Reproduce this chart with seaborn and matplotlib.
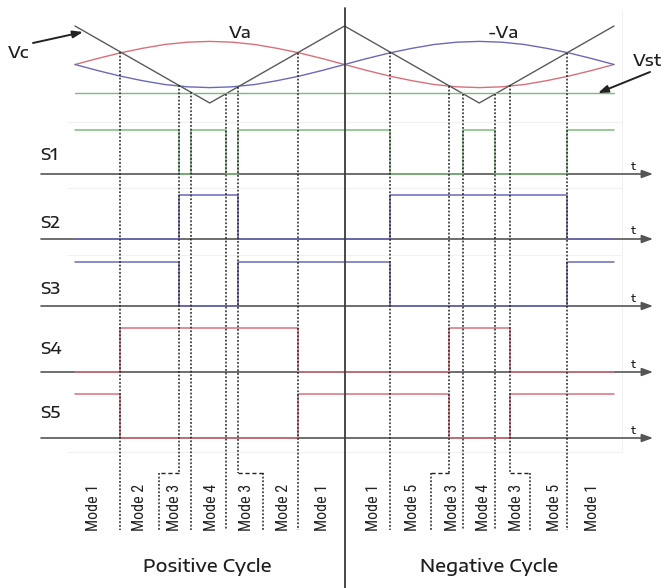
import numpy as np
import matplotlib
matplotlib.use("Agg")
import matplotlib.pyplot as plt
import seaborn as sns

# ---------------- signals (time in half-cycles: 0-1 positive, 1-2 negative) ----------------
carrier_t = [0.0, 0.5, 1.0, 1.5, 2.0]
carrier_v = [1.0, -1.0, 1.0, -1.0, 1.0]

ref_t = [0.0, 0.083, 0.167, 0.25, 0.333, 0.417, 0.5, 0.583, 0.667, 0.75, 0.833, 0.917,
         1.0, 1.083, 1.167, 1.25, 1.333, 1.417, 1.5, 1.583, 1.667, 1.75, 1.833, 1.917, 2.0]
va = [0.0, 0.155, 0.30, 0.42, 0.52, 0.58, 0.60, 0.58, 0.52, 0.42, 0.30, 0.155,
      0.0, -0.155, -0.30, -0.42, -0.52, -0.58, -0.60, -0.58, -0.52, -0.42, -0.30, -0.155, 0.0]
neg_va = [-v for v in va]
vst_level = -0.74

# switching instants (interval boundaries)
bounds = [0.0, 0.167, 0.386, 0.430, 0.560, 0.605, 0.827,
          1.169, 1.388, 1.440, 1.558, 1.614, 1.826, 2.0]

switch_names = ["S1", "S2", "S3", "S4", "S5"]
s1 = [1, 1, 0, 1, 0, 1, 1, 0, 0, 1, 0, 0, 1]
s2 = [0, 0, 1, 1, 1, 0, 0, 1, 1, 1, 1, 1, 0]
s3 = [1, 1, 0, 0, 0, 1, 1, 0, 0, 0, 0, 0, 1]
s4 = [0, 1, 1, 1, 1, 1, 0, 0, 1, 1, 1, 0, 0]
s5 = [1, 0, 0, 0, 0, 0, 1, 1, 0, 0, 0, 1, 1]
switch_states = [s1, s2, s3, s4, s5]

mode_labels = ["Mode 1", "Mode 2", "Mode 3", "Mode 4", "Mode 3", "Mode 2", "Mode 1",
               "Mode 1", "Mode 5", "Mode 3", "Mode 4", "Mode 3", "Mode 5", "Mode 1"]
mode_pos = [0.067, 0.241, 0.371, 0.505, 0.638, 0.772, 0.917,
            1.106, 1.254, 1.399, 1.514, 1.640, 1.781, 1.922]

# ---------------- layout ----------------
W, H = 666, 588
X0, XS = 75.0, 269.5            # pixel position of t=0 and pixels per half-cycle
def tx(px):
    return (px - X0) / XS

TOP_MID, TOP_SCALE = 64.5, 38.5
def top_y(v):
    return TOP_MID - TOP_SCALE * np.asarray(v, dtype=float)

row_base = [174, 239, 306, 372, 438]
row_label_y = [156, 224, 289, 349, 413]
ROW_HIGH = 44
JOG_Y, END_Y = 473, 530
jogs = {2: 0.312, 5: 0.698, 8: 1.321, 11: 1.688}

RED, BLUE, GREEN, GREY = "#d8707a", "#6a6ab8", "#7dbb7d", "#5a5a5a"
row_colors = [GREEN, BLUE, BLUE, RED, RED]
TXT = "#1e1e1e"

sns.set_theme(style="white")
plt.rcParams["font.family"] = ["Encode Sans Expanded", "DejaVu Sans"]
WIDE = dict(family=["Encode Sans Expanded", "DejaVu Sans"], fontweight="medium")
NARROW = dict(family=["Roboto Condensed", "DejaVu Sans"], fontweight="normal")

fig = plt.figure(figsize=(W / 100, H / 100), dpi=100)
ax = fig.add_axes([0, 0, 1, 1])

# faint panel frames
for yy in (122, 188, 255, 452):
    ax.plot([tx(67), tx(622)], [yy, yy], color="#f1f1f1", lw=0.8, zorder=0)
ax.plot([tx(622), tx(622)], [10, 452], color="#f1f1f1", lw=0.8, zorder=0)

# reference and carrier
sns.lineplot(x=ref_t, y=top_y(va), ax=ax, color=RED, lw=1.0, estimator=None, sort=False)
sns.lineplot(x=ref_t, y=top_y(neg_va), ax=ax, color=BLUE, lw=1.0, estimator=None, sort=False)
sns.lineplot(x=carrier_t, y=top_y(carrier_v), ax=ax, color=GREY, lw=1.0, estimator=None, sort=False)
ax.plot([0, 2], top_y([vst_level, vst_level]), color=GREEN, lw=1.0)

# half-cycle divider
ax.plot([1, 1], [8, H], color="#3a3a3a", lw=1.3, zorder=5)

# gate signals
for i, (name, st) in enumerate(zip(switch_names, switch_states)):
    base = row_base[i]
    ax.annotate("", xy=(tx(653), base), xytext=(tx(41), base),
                arrowprops=dict(arrowstyle="-|>,head_length=0.55,head_width=0.2",
                                color="#555555", lw=1.2, shrinkA=0, shrinkB=0), zorder=2)
    levels = base - ROW_HIGH * np.array(st + [st[-1]], dtype=float)
    sns.lineplot(x=bounds, y=levels, ax=ax, color=row_colors[i], lw=1.1,
                 drawstyle="steps-post", estimator=None, sort=False, zorder=3)
    ax.text(tx(40), row_label_y[i], name, ha="left", va="center", fontsize=12,
            color=TXT, **WIDE)
    ax.text(tx(633), base - 8, "t", ha="center", va="center", fontsize=8,
            color=TXT, **WIDE)

# switching-instant guides
dot = dict(color="#222222", lw=1.1, linestyle=(0, (1.2, 1.2)), zorder=4)
dash = dict(color="#222222", lw=1.0, linestyle=(0, (3, 2)), zorder=4)
for j in range(1, len(bounds) - 1):
    t = bounds[j]
    y0 = float(top_y(np.interp(t, carrier_t, carrier_v)))
    if j in jogs:
        jt = jogs[j]
        ax.plot([t, t], [y0, JOG_Y], **dot)
        ax.plot([t, jt], [JOG_Y, JOG_Y], **dash)
        ax.plot([jt, jt], [JOG_Y, END_Y], **dot)
    else:
        ax.plot([t, t], [y0, END_Y], **dot)

# mode labels
for lab, p in zip(mode_labels, mode_pos):
    ax.text(p, 507, lab, rotation=90, ha="center", va="center", fontsize=11.5,
            color="#222222", **NARROW)

ax.text(tx(207), 567, "Positive Cycle", ha="center", va="center", fontsize=13,
        color=TXT, **WIDE)
ax.text(tx(489), 567, "Negative Cycle", ha="center", va="center", fontsize=13,
        color=TXT, **WIDE)

# waveform names
ax.text(tx(8), 53, "Vc", ha="left", va="center", fontsize=12, color=TXT, **WIDE)
ax.annotate("", xy=(tx(83), 32), xytext=(tx(33), 43),
            arrowprops=dict(arrowstyle="-|>,head_length=0.5,head_width=0.18",
                            color="#222222", lw=1.4, shrinkA=0, shrinkB=0))
ax.text(tx(240), 33, "Va", ha="center", va="center", fontsize=12, color=TXT, **WIDE)
ax.text(tx(503), 33, "-Va", ha="center", va="center", fontsize=12, color=TXT, **WIDE)
ax.text(tx(647), 61, "Vst", ha="center", va="center", fontsize=12, color=TXT, **WIDE)
ax.annotate("", xy=(tx(598), 93), xytext=(tx(650), 72),
            arrowprops=dict(arrowstyle="-|>,head_length=0.5,head_width=0.18",
                            color="#222222", lw=1.4, shrinkA=0, shrinkB=0))

ax.set_xlim(tx(0), tx(W))
ax.set_ylim(H, 0)
ax.axis("off")
fig.savefig("out.png", dpi=100, facecolor="white")
